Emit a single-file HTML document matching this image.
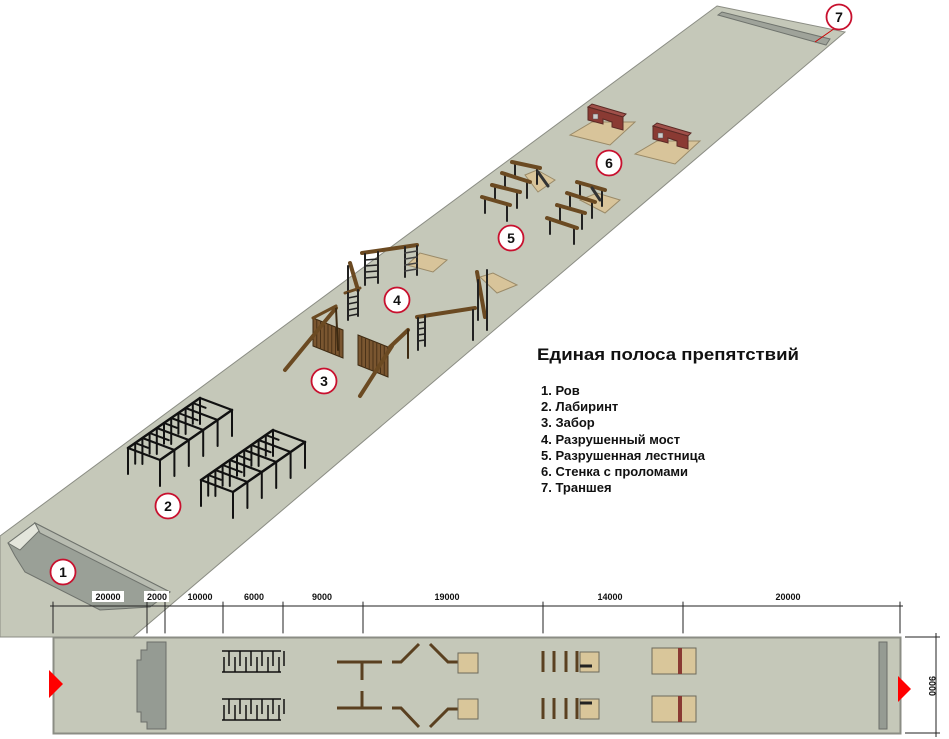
<!DOCTYPE html>
<html><head><meta charset="utf-8"><style>
html,body{margin:0;padding:0;background:#fff;width:949px;height:739px;overflow:hidden}
svg{display:block}
text{font-family:"Liberation Sans",sans-serif}
</style></head><body>
<svg id="s" width="949" height="739" viewBox="0 0 949 739" xmlns="http://www.w3.org/2000/svg">
<!-- strip -->
<polygon points="717,6 845,32 133,637 0,637 0,536" fill="#c5c8b9" stroke="#8b8d84" stroke-width="1"/>
<!-- ditch 1 -->
<polygon points="8,543 35,523 170,592 150,607 100,610 25,572 15,556" fill="#9aa097" stroke="#6f736d" stroke-width="1"/>
<polygon points="8,543 35,523 40,530 20,550" fill="#e4e6dc" stroke="#6f736d" stroke-width="1"/>
<polygon points="35,523 170,592 165,596 40,533" fill="#b7bbb0" stroke="#6f736d" stroke-width="1"/>
<!-- trench 7 -->
<polygon points="718,15 722,12 830,39 826,45" fill="#9fa39a" stroke="#6f736d" stroke-width="1"/>
<line x1="838" y1="26" x2="815" y2="42" stroke="#c00" stroke-width="1"/>
<g id="obj"></g>
<!-- legend -->
<text x="537" y="360" font-size="17" font-weight="bold" textLength="262" lengthAdjust="spacingAndGlyphs" fill="#111">Единая полоса препятствий</text>
<g font-size="13" font-weight="bold" fill="#111">
<text x="541" y="395">1. Ров</text>
<text x="541" y="411">2. Лабиринт</text>
<text x="541" y="427">3. Забор</text>
<text x="541" y="444">4. Разрушенный мост</text>
<text x="541" y="460">5. Разрушенная лестница</text>
<text x="541" y="476">6. Стенка с проломами</text>
<text x="541" y="492">7. Траншея</text>
</g>
<!-- dimensions -->
<g stroke="#222" stroke-width="1">
<line x1="50" y1="606" x2="903" y2="606"/>
<g id="ticks"></g>
</g>
<g font-size="9" font-weight="bold" fill="#111" text-anchor="middle">
<rect x="92" y="591" width="32" height="11" fill="#fff"/>
<rect x="144" y="591" width="25" height="11" fill="#fff"/>
<text x="108" y="600">20000</text><text x="157" y="600">2000</text>
<text x="200" y="600">10000</text><text x="254" y="600">6000</text>
<text x="322" y="600">9000</text><text x="447" y="600">19000</text>
<text x="610" y="600">14000</text><text x="788" y="600">20000</text>
</g>
<!-- plan -->
<rect x="53.5" y="637.5" width="847" height="96" fill="#c5c8b9" stroke="#8b8d84" stroke-width="2"/>
<polygon points="147,642 166,642 166,729 147,729 147,722 141,722 141,712 137,712 137,660 141,660 141,650 147,650" fill="#959b93" stroke="#6a6e69"/>
<rect x="879" y="642" width="8" height="87" fill="#959b93" stroke="#6a6e69"/>
<polygon points="49,670 63,684 49,698" fill="#f00"/>
<polygon points="898,676 911,689 898,702" fill="#f00"/>
<g id="plan" stroke="#5a4020" stroke-width="3" fill="none"></g>
<g stroke="#222" stroke-width="1">
<line x1="905" y1="637" x2="940" y2="637"/><line x1="905" y1="733" x2="940" y2="733"/>
<line x1="936" y1="633" x2="936" y2="737"/>
</g>
<text x="0" y="0" font-size="9" font-weight="bold" fill="#111" text-anchor="middle" transform="translate(929,686) rotate(90)">9000</text>
<g id="circ"></g>
</svg>
<script>
var NS="http://www.w3.org/2000/svg";
function el(p,t,a){var e=document.createElementNS(NS,t);for(var k in a)e.setAttribute(k,a[k]);document.getElementById(p).appendChild(e);return e;}
function ln(p,x1,y1,x2,y2,c,w){el(p,'line',{x1:x1,y1:y1,x2:x2,y2:y2,stroke:c,'stroke-width':w,'stroke-linecap':'round'});}
function poly(p,pts,f,s){el(p,'polygon',{points:pts,fill:f,stroke:s||'#555','stroke-width':1});}
// ticks
[53,147,165,223,283,363,543,683,900].forEach(function(x){ln('ticks',x,602,x,633,'#222',1);});
// labyrinths (iso)
function lab(ox,oy){
 var A=[128+ox,448+oy],B=[200+ox,398+oy],W=[32,12],h=26,K='#111';
 var F=[A[0]+W[0],A[1]+W[1]],G=[B[0]+W[0],B[1]+W[1]];
 ln('obj',A[0],A[1],B[0],B[1],K,2.5);ln('obj',F[0],F[1],G[0],G[1],K,2.5);
 for(var i=0;i<=5;i++){var t=i/5,x=A[0]+(B[0]-A[0])*t,y=A[1]+(B[1]-A[1])*t;
  ln('obj',x,y,x+W[0],y+W[1],K,2.2);
  ln('obj',x,y,x,y+h,K,2);ln('obj',x+W[0],y+W[1],x+W[0],y+W[1]+h,K,2);
  if(i<5){var x2=x+(B[0]-A[0])/10,y2=y+(B[1]-A[1])/10;var s=i%2?0.6:0.4;
   ln('obj',x2,y2+(i%2?0:0),x2+W[0]*s,y2+W[1]*s,K,2);ln('obj',x2,y2,x2,y2+h*0.8,K,2);}
 }
}
lab(0,0);lab(73,32);
var Br='#6b4a22';
// fences (3)
function fence(pts,x1,y1,x2,y2){poly('obj',pts,'#7a5630','#3d2a12');
 var p=pts.split(' ').map(function(s){return s.split(',').map(Number);});
 for(var i=1;i<8;i++){var t=i/8;ln('obj',p[0][0]+(p[1][0]-p[0][0])*t,p[0][1]+(p[1][1]-p[0][1])*t,p[3][0]+(p[2][0]-p[3][0])*t,p[3][1]+(p[2][1]-p[3][1])*t,'#4a3218',1);}
 ln('obj',x1,y1,x2,y2,Br,4);}
fence('313,318 343,330 343,358 313,346',285,370,336,308);
ln('obj',336,308,338,350,'#3d2a12',2);ln('obj',313,318,336,306,Br,3);
fence('358,335 388,347 388,377 358,365',360,396,392,346);
ln('obj',390,347,408,330,Br,4);ln('obj',408,330,408,358,'#3d2a12',2);
// bridge 4
poly('obj','407,265 420,253 447,260 433,272','#d8c49a','#9a8a68');
poly('obj','480,277 493,273 517,285 497,293','#d8c49a','#9a8a68');
ln('obj',362,253,417,245,Br,4);ln('obj',365,254,365,285,'#222',2);ln('obj',378,252,378,283,'#222',2);
for(var y=260;y<283;y+=6)ln('obj',365,y,378,y-1,'#222',1.5);
ln('obj',405,247,405,277,'#222',2);ln('obj',417,246,417,275,'#222',2);
for(var y=253;y<275;y+=6)ln('obj',405,y,417,y-2,'#444',1.5);
ln('obj',350,263,358,290,Br,4);ln('obj',348,266,348,292,'#222',2);
ln('obj',345,293,360,288,Br,3);ln('obj',348,293,348,320,'#222',2);ln('obj',358,290,358,316,'#222',2);
for(var y=298;y<318;y+=6)ln('obj',348,y,358,y-2,'#222',1.5);
ln('obj',477,272,485,317,Br,4);ln('obj',487,270,487,330,'#222',2);ln('obj',478,280,478,320,'#222',2);
ln('obj',417,317,475,308,Br,4);ln('obj',418,318,418,350,'#222',2);ln('obj',425,316,425,346,'#222',2);
for(var y=323;y<346;y+=6)ln('obj',418,y,425,y-1,'#222',1.5);
ln('obj',473,310,473,340,'#222',2);
// ladders 5
poly('obj','525,175 537,170 555,180 538,192','#d8c49a','#9a8a68');
poly('obj','580,200 597,193 620,200 605,213','#d8c49a','#9a8a68');
[[512,162,540,168],[502,173,530,182],[492,185,520,192],[482,197,510,205],[577,182,605,190],[567,193,595,202],[557,205,585,213],[547,218,577,228]].forEach(function(b){
 ln('obj',b[0]+3,b[1],b[0]+3,b[1]+16,'#222',2);ln('obj',b[2]-3,b[3],b[2]-3,b[3]+16,'#222',2);ln('obj',b[0],b[1],b[2],b[3],Br,4);});
ln('obj',538,172,548,186,'#333',3);ln('obj',592,188,600,200,'#333',3);
// walls 6
function wall(dx,dy){poly('obj',(570+dx)+','+(135+dy)+' '+(592+dx)+','+(122+dy)+' '+(635+dx)+','+(122+dy)+' '+(610+dx)+','+(145+dy),'#d8c49a','#9a8a68');
 poly('obj',(588+dx)+','+(107+dy)+' '+(592+dx)+','+(104+dy)+' '+(626+dx)+','+(114+dy)+' '+(623+dx)+','+(117+dy),'#a0504a','#5a2a25');
 poly('obj',(588+dx)+','+(107+dy)+' '+(623+dx)+','+(117+dy)+' '+(623+dx)+','+(130+dy)+' '+(612+dx)+','+(127+dy)+' '+(612+dx)+','+(122+dy)+' '+(603+dx)+','+(119+dy)+' '+(603+dx)+','+(124+dy)+' '+(588+dx)+','+(120+dy),'#8a3a33','#5a2a25');
 el('obj','rect',{x:593+dx,y:114+dy,width:5,height:5,fill:'#ccc',stroke:'#555','stroke-width':0.5});}
wall(0,0);wall(65,19);
// plan
function pl(d){el('plan','path',{d:d});}
function plab(y){var g='M222,'+y+' H281 M222,'+(y+21)+' H281';for(var i=0;i<6;i++){var x=224+i*11;g+=' M'+x+','+(y+21)+' V'+(y+6)+' M'+(x+5)+','+y+' V'+(y+15);}
 el('plan','path',{d:g,stroke:'#111','stroke-width':1.5});}
plab(651);plab(699);
pl('M337,662 H382 M362,662 V680 M337,708 H382 M362,691 V708');
pl('M392,662 H401 L419,644 M430,644 L448,662 H458 M392,708 H401 L419,727 M430,727 L448,709 H458');
[543,554,566,577].forEach(function(x){pl('M'+x+',651 V672 M'+x+',698 V719');});
function sq(x,y,w,h){el('plan','rect',{x:x,y:y,width:w,height:h,fill:'#d9c69a',stroke:'#6d6a5c','stroke-width':1});}
sq(458,653,20,20);sq(458,699,20,20);sq(580,652,19,20);sq(580,699,19,20);
el('plan','path',{d:'M580,666 H592 M580,703 H592',stroke:'#222','stroke-width':3});
sq(652,648,44,26);sq(652,696,44,26);
el('plan','path',{d:'M680,648 V674 M680,696 V722',stroke:'#8a3a33','stroke-width':4});
// circles
[[63,572,'1'],[168,506,'2'],[324,381,'3'],[397,300,'4'],[511,238,'5'],[609,163,'6'],[839,17,'7']].forEach(function(c){
 el('circ','circle',{cx:c[0],cy:c[1],r:12.5,fill:'#fff',stroke:'#c8102e','stroke-width':1.8});
 var t=el('circ','text',{x:c[0],y:c[1]+5,'font-size':14,'font-weight':'bold','text-anchor':'middle',fill:'#111'});t.textContent=c[2];});
</script>
</body></html>
